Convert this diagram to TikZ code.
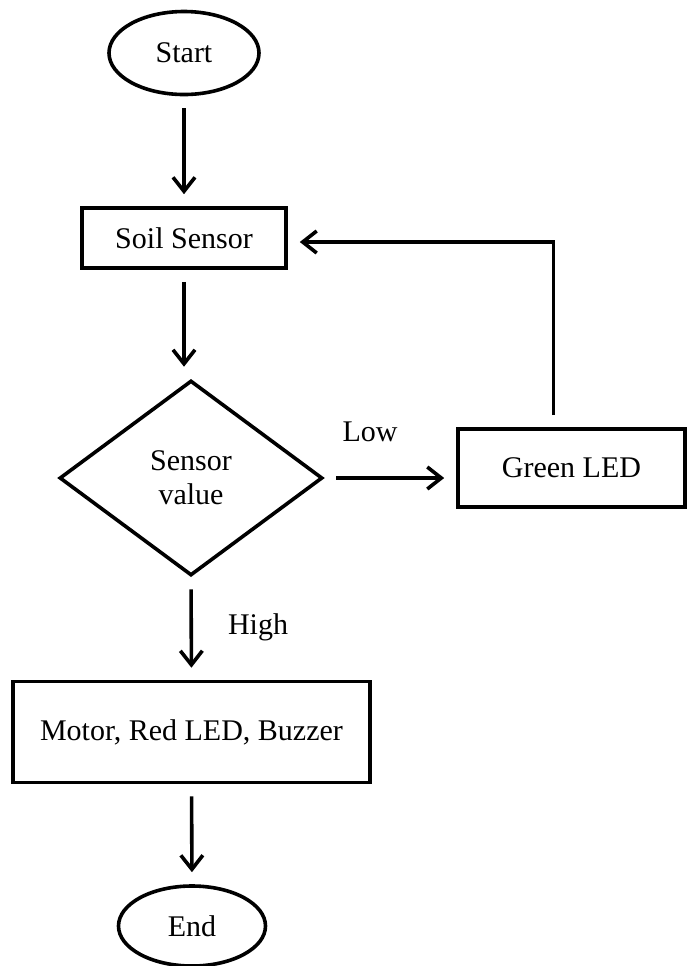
\documentclass[tikz,border=0pt]{standalone}
\usepackage{fontspec}
\setmainfont{Liberation Serif}
\usepackage{tikz}
\usetikzlibrary{positioning,calc}
\usetikzlibrary{arrows.meta,shapes.geometric}
\tikzset{
  term/.style={ellipse,draw=black,line width=1.8pt,inner sep=0pt,
    minimum width=75pt,minimum height=41.5pt},
  proc/.style={rectangle,draw=black,line width=1.8pt,inner sep=0pt},
  decide/.style={diamond,draw=black,line width=1.8pt,inner sep=0pt,
    minimum width=131.5pt,minimum height=97.5pt,align=center},
  flow/.style={draw=black,line width=1.8pt,
    -{Straight Barb[length=7pt,width=11pt,line width=1.8pt]},
    shorten <=6pt,shorten >=6pt},
  lbl/.style={inner sep=0pt},
}

\begin{document}
\begin{tikzpicture}[x=0.5pt,y=-0.5pt,font=\fontsize{15}{18}\selectfont]
\useasboundingbox (0,0) rectangle (687,966);
% nodes
\node[term] (start) at (184,53) {Start};
\node[proc,minimum width=102pt,minimum height=30pt] (soil) at (184,238) {Soil Sensor};
\node[decide] (value) at (191,478) {Sensor\\[-1pt]value};
\node[proc,minimum width=113.5pt,minimum height=39pt] (green) at (571.5,468) {Green LED};
\node[proc,minimum width=178.5pt,minimum height=50.5pt] (motor) at (191.5,732) {Motor, Red LED, Buzzer};
\node[term,minimum width=73.5pt,minimum height=40pt] (end) at (192,926) {End};
% labels
\node[lbl] (low) at (370,432) {Low};
\node[lbl] (high) at (258,627) {High};
% connectors
\draw[flow] (start.south) -- (soil.north);
\draw[flow] (soil.south) -- (soil.south |- value.north);
\draw[flow] (value.east) -- (green.west |- value.east);
\draw[flow] ([xshift=-9pt]green.north) |- ([yshift=-2pt]soil.east);
\draw[flow] (value.south) -- (motor.north);
\draw[flow] (motor.south) -- (end.north);
\end{tikzpicture}
\end{document}
